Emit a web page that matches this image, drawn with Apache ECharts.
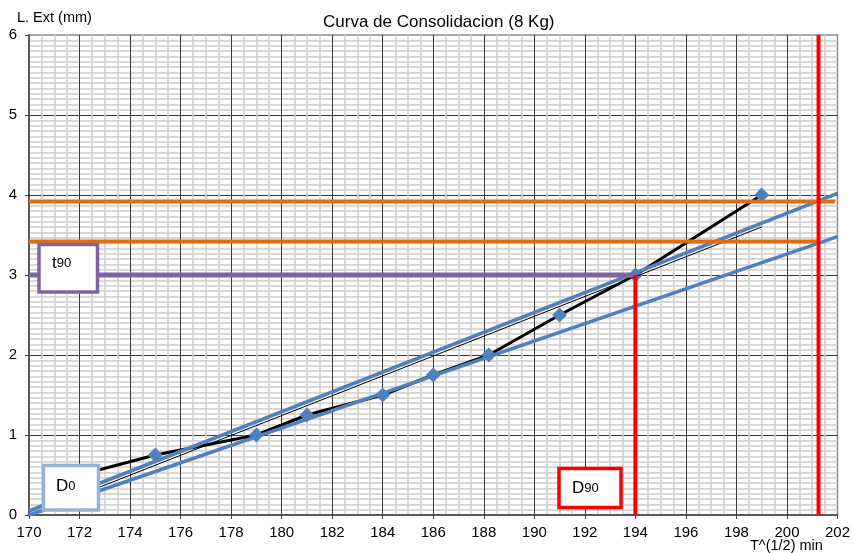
<!DOCTYPE html>
<html>
<head>
<meta charset="utf-8">
<script src="https://cdn.jsdelivr.net/npm/echarts@6/dist/echarts.min.js"></script>
<style>
  html, body { margin: 0; padding: 0; background: #fff; }
  #chart { width: 853px; height: 553px; }
</style>
</head>
<body>
<div id="chart"></div>
<script>
// Consolidation readings: square root of time vs. dial reading
const timeRoot = [172, 175, 179, 181, 184, 186, 188.2, 191, 194, 199];
const reading  = [0.5, 0.75, 1.0, 1.25, 1.5, 1.75, 2.0, 2.5, 3.0, 4.0];

// Construction lines (start and end points)
const trendLine    = [[172, 0.25], [199, 3.6]];
const upperTangent = [[170, 0.05], [202, 4.02]];
const lowerTangent = [[170, 0], [202, 3.48]];
const upperLevel   = [[170, 3.92], [201.9, 3.92]];
const lowerLevel   = [[170, 3.42], [201.25, 3.42]];
const t90Level     = [[170, 3], [194, 3]];
const d90Mark      = [[194, 0], [194, 3]];
const tangentMark  = [[201.25, 0], [201.25, 6]];

const FONT = '"Liberation Sans", Arial, sans-serif';

const chart = echarts.init(document.getElementById('chart'), null, { renderer: 'canvas' });

function segment(name, data, color, width, z) {
  return {
    name, type: 'line', data, symbol: 'none', z,
    lineStyle: { color, width, cap: 'butt' },
    silent: true, animation: false
  };
}

function boxLabel(main, sub) {
  return {
    text: '{a|' + main + '}{b|' + sub + '}', textVerticalAlign: 'bottom',
    rich: { a: { font: '17px ' + FONT, fill: '#000' }, b: { font: '13px ' + FONT, fill: '#000' } }
  };
}

const option = {
  animation: false,
  backgroundColor: '#ffffff',
  title: {
    text: 'Curva de Consolidacion (8 Kg)',
    left: 318, top: 9,
    textStyle: { fontFamily: FONT, fontSize: 17, fontWeight: 'normal', color: '#000' }
  },
  grid: {
    left: 29, top: 35, right: 15, bottom: 38,
    show: true, borderColor: '#8a8a8a', borderWidth: 1.5, backgroundColor: 'transparent'
  },
  xAxis: {
    type: 'value', min: 170, max: 202, interval: 2,
    axisLine: { show: true, lineStyle: { color: '#404040', width: 1.5 } },
    axisTick: { show: true, length: 4, lineStyle: { color: '#404040' } },
    axisLabel: { margin: 10, fontFamily: FONT, fontSize: 15, color: '#000' },
    minorTick: { show: false, splitNumber: 4 },
    splitLine: { show: true, showMaxLine: false, showMinLine: false, lineStyle: { color: '#3a3a3a', width: 1 } },
    minorSplitLine: { show: true, lineStyle: { color: '#cdcdcd', width: 1.5 } }
  },
  yAxis: {
    type: 'value', min: 0, max: 6, interval: 1,
    axisLine: { show: true, lineStyle: { color: '#404040', width: 1.5 } },
    axisTick: { show: true, length: 4, lineStyle: { color: '#404040' } },
    axisLabel: { margin: 12, fontFamily: FONT, fontSize: 15, color: '#000' },
    minorTick: { show: false, splitNumber: 15 },
    splitLine: { show: true, showMaxLine: false, showMinLine: false, lineStyle: { color: '#3a3a3a', width: 1 } },
    minorSplitLine: { show: true, lineStyle: { color: '#cdcdcd', width: 1.5 } }
  },
  series: [
    {
      name: 'Lectura', type: 'line', z: 2,
      data: timeRoot.map((t, i) => [t, reading[i]]),
      symbol: 'diamond', symbolSize: 15,
      itemStyle: { color: '#4F81BD' },
      lineStyle: { color: '#000', width: 3 }
    },
    segment('Tendencia', trendLine, '#000', 1, 3),
    segment('Tangente', upperTangent, '#4F81BD', 3.5, 4),
    segment('Tangente 1.15', lowerTangent, '#4F81BD', 3.5, 4),
    segment('Nivel sup', upperLevel, '#E46C0A', 4, 5),
    segment('Nivel inf', lowerLevel, '#E46C0A', 4, 5),
    segment('t90', t90Level, '#8064A2', 5, 6),
    segment('D90', d90Mark, '#FF0000', 4, 7),
    segment('Corte', tangentMark, '#FF0000', 4, 7)
  ],
  graphic: {
    elements: [
      { type: 'text', z: 100, left: 17, top: 10,
        style: { text: 'L. Ext (mm)', font: '14.5px ' + FONT, fill: '#000' } },
      { type: 'text', z: 100, left: 750, top: 538,
        style: { text: 'T^(1/2) min', font: '14.5px ' + FONT, fill: '#000' } },

      { type: 'rect', z: 100, shape: { x: 39, y: 244.5, width: 58.5, height: 47.5 },
        style: { fill: '#fff', stroke: '#8064A2', lineWidth: 3.5 } },
      { type: 'text', z: 101, x: 52, y: 272, style: boxLabel('t', '90') },

      { type: 'rect', z: 100, shape: { x: 43.5, y: 465.5, width: 55, height: 44.5 },
        style: { fill: '#fff', stroke: '#95B3D7', lineWidth: 3.5 } },
      { type: 'text', z: 101, x: 56, y: 495, style: boxLabel('D', '0') },

      { type: 'rect', z: 100, shape: { x: 559, y: 468.5, width: 62, height: 39 },
        style: { fill: '#fff', stroke: '#FF0000', lineWidth: 3.5 } },
      { type: 'text', z: 101, x: 572, y: 497, style: boxLabel('D', '90') }
    ]
  }
};

chart.setOption(option);
</script>
</body>
</html>
